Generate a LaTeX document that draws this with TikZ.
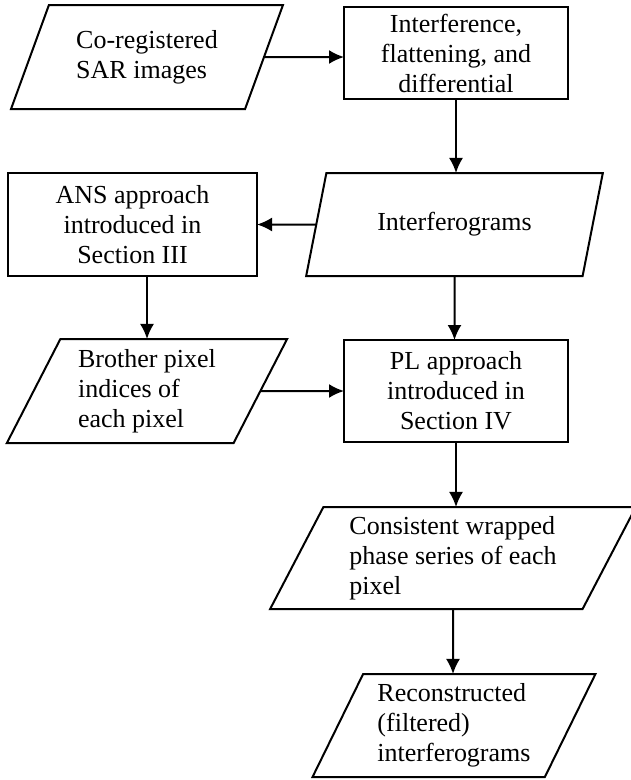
\documentclass[tikz,border=0pt]{standalone}
\usepackage{fontspec}
\setmainfont{Liberation Serif}
\usetikzlibrary{shapes.geometric,arrows.meta,positioning}
\tikzstyle{line} = [draw, -{Latex[length=15pt,width=14pt]}, line width=2pt]
\tikzstyle{block} = [rectangle, draw, line width=2pt, align=center,
  outer sep=0pt, inner sep=0pt]
\tikzstyle{io} = [trapezium, trapezium left angle=63, trapezium right angle=117,
  trapezium stretches=true, draw, line width=2pt, align=left,
  outer sep=0pt, inner sep=0pt]

\begin{document}
\begin{tikzpicture}[x=1pt, y=1pt, font=\fontsize{26}{30}\selectfont]

      \useasboundingbox (0,0) rectangle (631,-780);

      %
      % Top row
      %
      \node [io, minimum width=272pt, minimum height=104pt] (sar) at (147,-57)
        {Co-registered\\SAR images};
      \node [block, minimum width=224pt, minimum height=92pt] (interf) at (456,-53)
        {Interference,\\flattening, and\\differential};

      %
      % Middle rows
      %
      \node [io, minimum width=297pt, minimum height=103pt] (igram) at (454.5,-224.5)
        {Interferograms};
      \node [block, minimum width=249pt, minimum height=103pt] (ans) at (132.5,-224.5)
        {ANS approach\\introduced in\\Section III};
      \node [io, minimum width=281pt, minimum height=104pt] (brother) at (147,-391)
        {Brother pixel\\indices of\\each pixel};
      \node [block, minimum width=224pt, minimum height=102pt] (pl) at (456,-391)
        {PL approach\\introduced in\\Section IV};

      %
      % Output
      %
      \node [io, minimum width=366pt, minimum height=102pt] (cons) at (453,-558)
        {Consistent wrapped\\phase series of each\\pixel};
      \node [io, minimum width=284pt, minimum height=103pt] (recon) at (454,-725.5)
        {Reconstructed\\(filtered)\\interferograms};

      \path [line] (sar) -- (sar -| interf.west);
      \path [line] (interf) -- (interf |- igram.north);
      \path [line] (igram) -- (igram -| ans.east);
      \path [line] (ans.south -| brother) -- (brother);
      \path [line] (brother) -- (brother -| pl.west);
      \path [line] (igram) -- (igram |- pl.north);
      \path [line] (pl) -- (pl |- cons.north);
      \path [line] (cons) -- (cons |- recon.north);

\end{tikzpicture}
\end{document}
